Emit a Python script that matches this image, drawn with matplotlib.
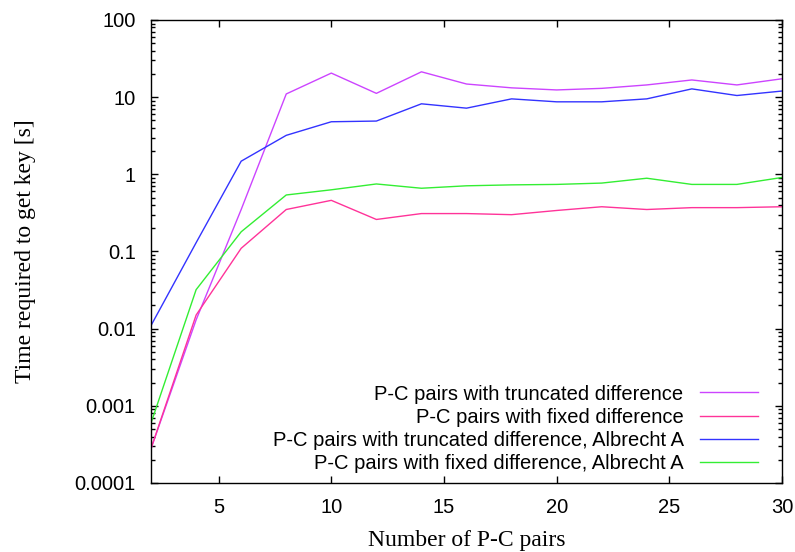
"""Time to recover the key versus number of P-C pairs (log scale)."""

import matplotlib
matplotlib.use('Agg')
import matplotlib.pyplot as plt
from matplotlib.ticker import FuncFormatter, LogLocator, MultipleLocator, NullFormatter


pairs = [2, 4, 6, 8, 10, 12, 14, 16, 18, 20, 22, 24, 26, 28, 30]
truncated = [0.00028, 0.013, 0.35, 11.0, 20.5, 11.2, 21.3, 14.8, 13.2, 12.4,
             13.0, 14.4, 16.7, 14.4, 17.3]
fixed = [0.00028, 0.015, 0.11, 0.35, 0.46, 0.26, 0.31, 0.31, 0.30, 0.34,
         0.38, 0.35, 0.37, 0.37, 0.38]
truncated_albrecht = [0.011, 0.13, 1.48, 3.2, 4.8, 4.9, 8.2, 7.2, 9.5, 8.7,
                      8.7, 9.5, 12.8, 10.5, 12.0]
fixed_albrecht = [0.0006, 0.032, 0.18, 0.54, 0.63, 0.75, 0.66, 0.71, 0.73,
                  0.74, 0.77, 0.89, 0.74, 0.74, 0.91]

series = [
    ('P-C pairs with truncated difference', truncated, '#cc44ff'),
    ('P-C pairs with fixed difference', fixed, '#ff3399'),
    ('P-C pairs with truncated difference, Albrecht A', truncated_albrecht, '#3333ff'),
    ('P-C pairs with fixed difference, Albrecht A', fixed_albrecht, '#33ee33'),
]

fig = plt.figure(figsize=(7.95, 5.52), dpi=100)
ax = fig.add_axes([0.190, 0.125, 0.7936, 0.8388])

for label, values, color in series:
    ax.plot(pairs, values, color=color, linewidth=1.0, label=label)

ax.set_yscale('log')
ax.set_xlim(2, 30)
ax.set_ylim(0.0001, 100)
ax.xaxis.set_major_locator(MultipleLocator(5))
ax.yaxis.set_major_locator(LogLocator(base=10, numticks=10))
ax.yaxis.set_minor_locator(LogLocator(base=10, subs=range(2, 10), numticks=10))
ax.yaxis.set_minor_formatter(NullFormatter())
ax.yaxis.set_major_formatter(FuncFormatter(lambda v, _: f'{v:g}'))

ax.tick_params(which='both', direction='in', top=True, right=True)
ax.tick_params(which='major', length=5, width=1, labelsize=14.5, pad=11)
ax.tick_params(which='minor', length=3, width=1)
for lab in ax.get_xticklabels() + ax.get_yticklabels():
    lab.set_family('Liberation Sans')
for spine in ax.spines.values():
    spine.set_linewidth(1.0)

ax.set_xlabel('Number of P-C pairs', family='Liberation Serif', fontsize=17, labelpad=9)
ax.set_ylabel('Time required to get key [s]', family='Liberation Serif', fontsize=17, labelpad=28)

ax.legend(loc='lower right', bbox_to_anchor=(0.975, 0.005), frameon=False,
          markerfirst=False, handlelength=2.9, handletextpad=0.8,
          labelspacing=0.2, borderaxespad=0,
          prop={'family': 'Liberation Sans', 'size': 14.5})

fig.savefig('out.png', dpi=100)
